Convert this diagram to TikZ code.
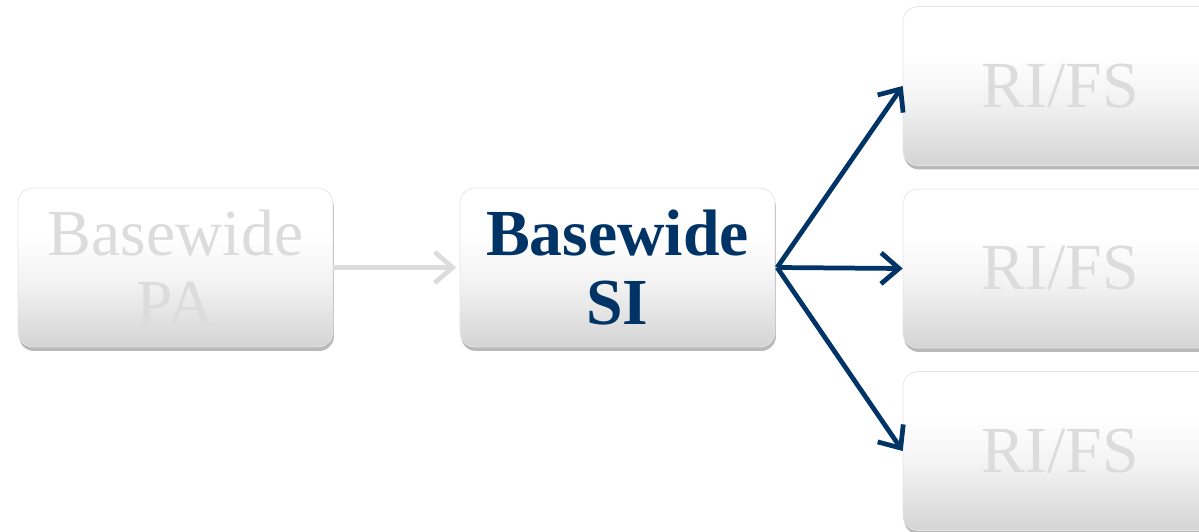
\documentclass[tikz,border=0pt]{standalone}
\usepackage{fontspec}
\setmainfont{Liberation Serif}
\usetikzlibrary{arrows.meta,shadows,shadings}
\definecolor{navy}{RGB}{0,51,102}
\definecolor{lightgr}{RGB}{220,220,220}
\definecolor{boxbot}{RGB}{212,212,212}
\pgfdeclareverticalshading{boxshade}{100bp}{color(0bp)=(boxbot); color(25bp)=(boxbot); color(45bp)=(gray!10); color(60bp)=(white); color(100bp)=(white)}
\begin{document}
\begin{tikzpicture}[x=0.02cm,y=-0.02cm,
  box/.style={rounded corners=0.3cm, draw=gray!20, line width=0.4pt,
    shading=boxshade, minimum width=6.3cm, minimum height=3.18cm,
    inner sep=0pt, align=center,
    font=\fontsize{37.4pt}{39.7pt}\selectfont,
    drop shadow={shadow xshift=0.02cm, shadow yshift=-0.08cm, opacity=0.5, fill=black!55}},
  faded/.style={box, text=lightgr},
  active/.style={box, text=navy, font=\fontsize{37.4pt}{39.7pt}\selectfont\bfseries},
  grayarrow/.style={draw=lightgr, line width=2.7pt, -{Straight Barb[length=0.36cm,width=0.62cm]}},
  bluearrow/.style={draw=navy, line width=2.7pt, -{Straight Barb[length=0.36cm,width=0.62cm]}}]
\useasboundingbox (0,0) rectangle (1199,531);
\clip (0,0) rectangle (1199,531);
\node[faded] (pa) at (175.5,267.5) {Basewide\\PA};
\node[active] (si) at (617.5,267.5) {Basewide\\SI};
\node[faded] (ri1) at (1060.5,86) {RI/FS};
\node[faded] (ri2) at (1060.5,268.5) {RI/FS};
\node[faded] (ri3) at (1060.5,451) {RI/FS};
\draw[grayarrow] (pa.east) -- ([xshift=-2pt]si.west);
\coordinate (fork) at ([xshift=1pt]si.east);
\draw[bluearrow] (fork) -- (ri1.west);
\draw[bluearrow] (fork) -- (ri2.west);
\draw[bluearrow] (fork) -- (ri3.west);
\end{tikzpicture}
\end{document}
